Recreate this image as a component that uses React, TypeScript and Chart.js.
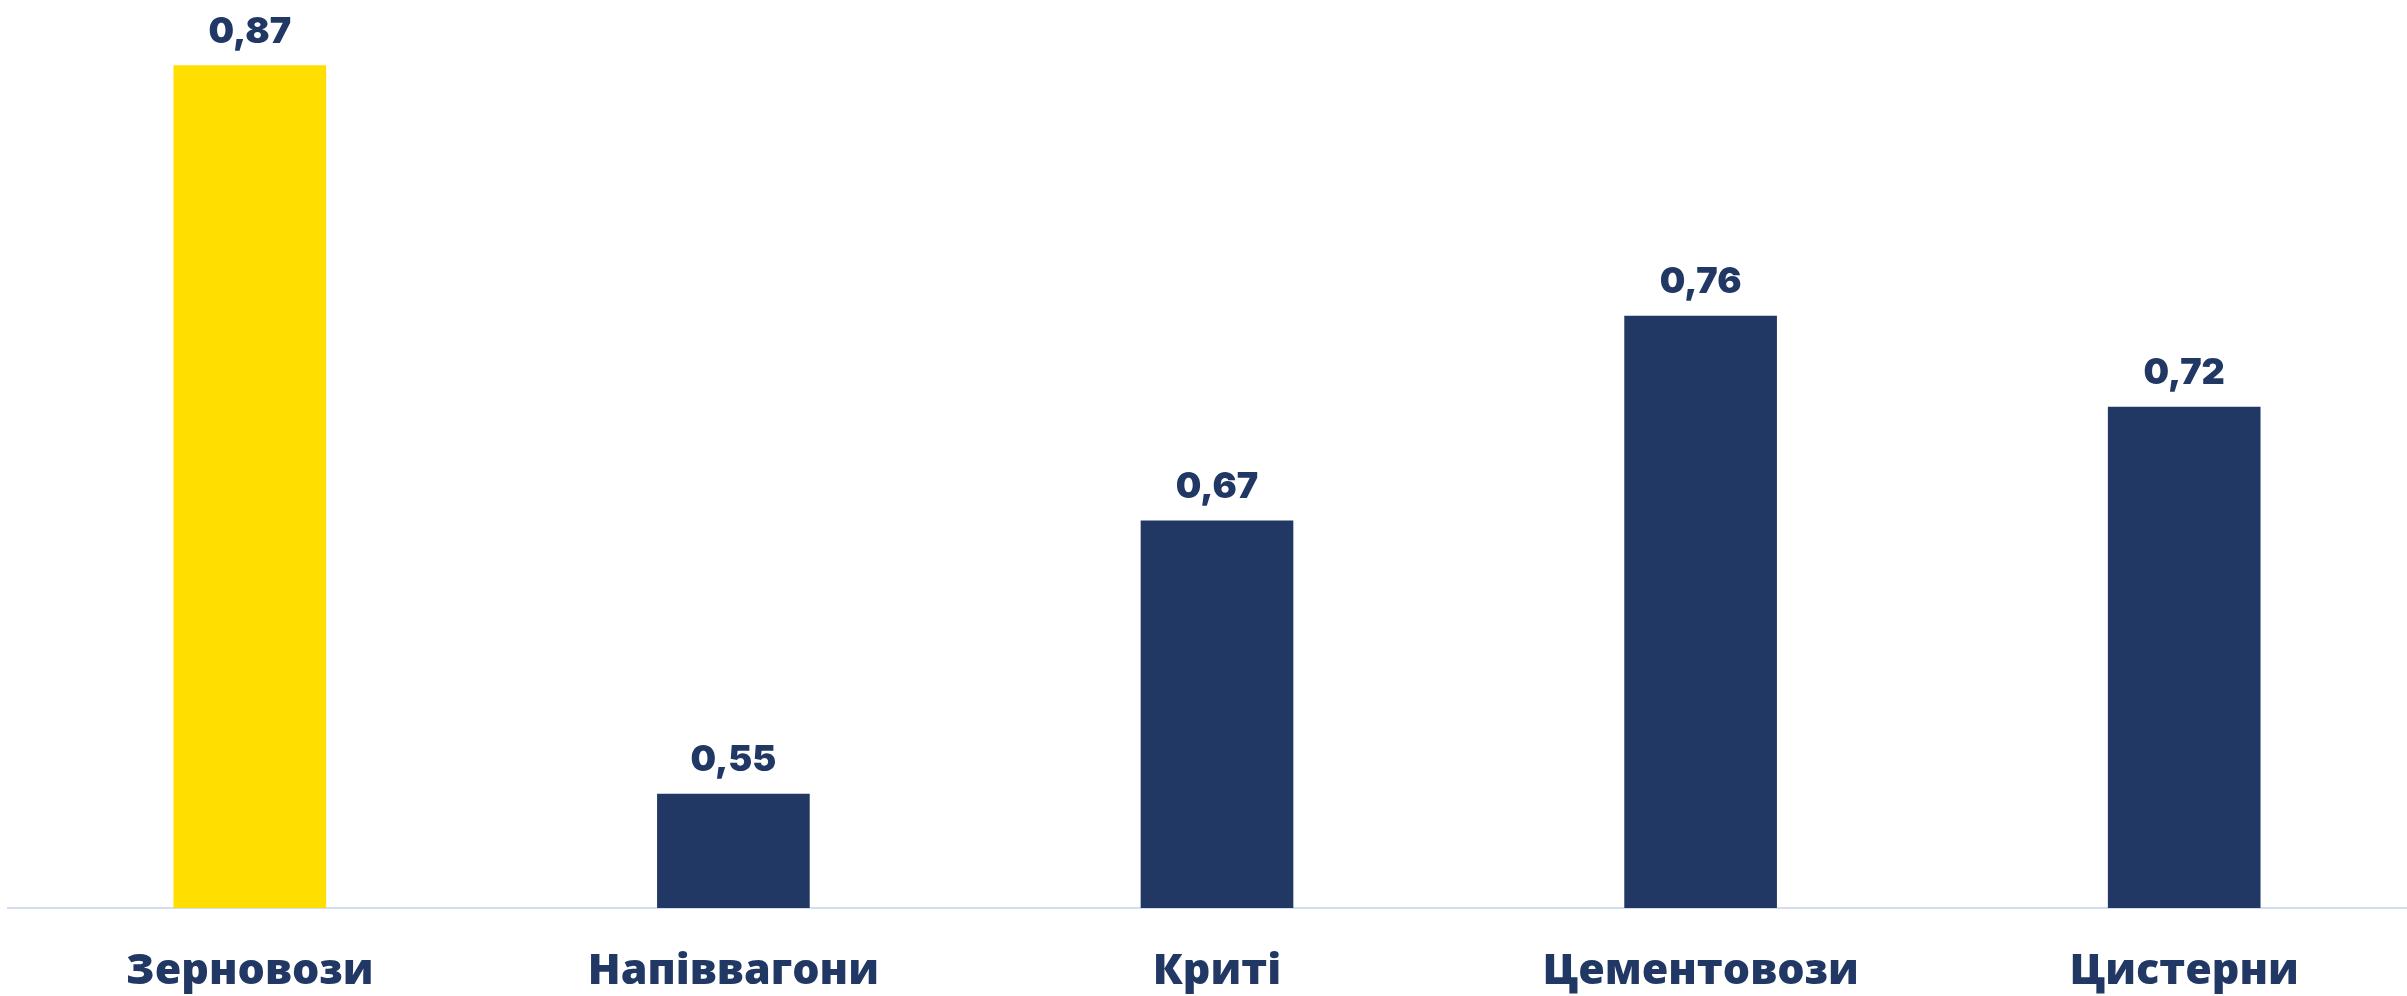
import React, { useEffect, useRef } from "react";
import { Chart, registerables } from "chart.js";

Chart.register(...registerables);

const categories = ["Зерновози", "Напіввагони", "Криті", "Цементовози", "Цистерни"];
const values = [0.87, 0.55, 0.67, 0.76, 0.72];
const barColors = ["#FFDE00", "#213864", "#213864", "#213864", "#213864"];

const NAVY = "#213864";
const CAT_FONT = "'Open Sans', Inter, 'DejaVu Sans', sans-serif";
const VAL_FONT = "Inter, 'Open Sans', 'DejaVu Sans', sans-serif";

const valueLabelPlugin = {
  id: "valueLabels",
  afterDatasetsDraw(chart: any) {
    const ctx = chart.ctx;
    const meta = chart.getDatasetMeta(0);
    ctx.save();
    ctx.fillStyle = NAVY;
    ctx.font = `900 36px ${VAL_FONT}`;
    ctx.textAlign = "center";
    ctx.textBaseline = "alphabetic";
    meta.data.forEach((bar: any, i: number) => {
      const txt = values[i].toFixed(2).replace(".", ",");
      ctx.fillText(txt, bar.x, bar.y - 23);
    });
    ctx.restore();
  },
};

export default function App() {
  const ref = useRef<HTMLCanvasElement>(null);
  useEffect(() => {
    if (!ref.current) return;
    const chart = new Chart(ref.current, {
      type: "bar",
      data: {
        labels: categories,
        datasets: [
          {
            data: values,
            backgroundColor: barColors,
            borderWidth: 0,
            barThickness: 152,
          },
        ],
      },
      options: {
        animation: false,
        responsive: false,
        devicePixelRatio: 1,
        layout: { padding: { left: 8, right: 0, top: 20, bottom: 0 } },
        plugins: { legend: { display: false }, tooltip: { enabled: false } },
        scales: {
          x: {
            grid: { display: false, drawTicks: false },
            border: { display: true, color: "#D3DDF0", width: 2 },
            ticks: {
              color: NAVY,
              padding: 38,
              font: { family: CAT_FONT, size: 43, weight: "800" as any },
              maxRotation: 0,
              autoSkip: false,
            },
            afterFit(scale: any) {
              scale.height = 88;
            },
          },
          y: {
            display: false,
            min: 0.5,
            max: 0.89,
          },
        },
      },
      plugins: [valueLabelPlugin],
    });
    return () => chart.destroy();
  }, []);
  return (
    <div
      style={{
        position: "absolute",
        left: 0,
        top: 0,
        width: 2407,
        height: 996,
        overflow: "hidden",
        background: "#fff",
      }}
    >
      <canvas ref={ref} width={2426} height={996} style={{ width: 2426, height: 996, display: "block" }} />
    </div>
  );
}
